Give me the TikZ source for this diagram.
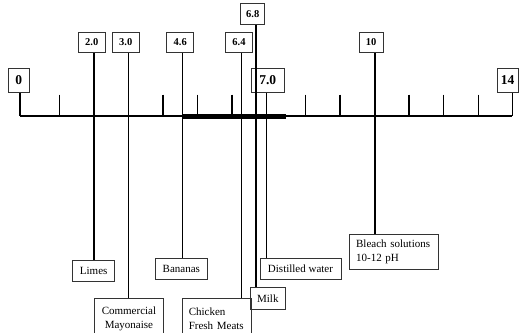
\documentclass[tikz,border=0pt]{standalone}
\usepackage{fontspec}
\setmainfont{Liberation Serif}
\begin{document}
\begin{tikzpicture}[x=1pt,y=-1pt,
  boxline/.style={draw=black!80, line width=0.9pt},
  lab/.style={boxline, inner sep=0pt, minimum width=27pt, minimum height=20.4pt, font=\bfseries\fontsize{10.5}{12}\selectfont},
  big/.style={boxline, inner sep=0pt, minimum height=24.4pt, font=\bfseries\fontsize{13.5}{15}\selectfont},
  food/.style={boxline, inner sep=0pt, minimum height=21pt, font=\fontsize{11}{13.5}\selectfont},
  food2/.style={boxline, inner ysep=0pt, font=\fontsize{11}{13.5}\selectfont},
  conn/.style={line width=1.2pt},
  tickmark/.style={line width=1.2pt}]
\useasboundingbox (0,0) rectangle (522,332);

% axis coordinates
\coordinate (a0) at (20,116);
\coordinate (a14) at (512.3,116);
\coordinate (a20) at (94,116);
\coordinate (a30) at (128.3,116);
\coordinate (a46) at (182.7,116);
\coordinate (a64) at (241.7,116);
\coordinate (a68) at (256,116);
\coordinate (a70) at (266.7,116);
\coordinate (a100) at (375,116);
\coordinate (thickend) at (286,116);

% top labels
\node[big, minimum width=20.7pt] (t0) at (18.7,80.5) {0};
\node[big, minimum width=21.3pt] (t14) at (507.7,80.5) {14};
\node[big, minimum width=33.3pt] (t70) at (267.8,80.5) {7.0};
\node[lab] (t20) at (91.7,42.5) {2.0};
\node[lab] (t30) at (125.8,42.5) {3.0};
\node[lab] (t46) at (180.3,42.5) {4.6};
\node[lab] (t64) at (239,42.5) {6.4};
\node[lab, minimum width=24pt] (t68) at (252.7,14) {6.8};
\node[lab, minimum width=24.3pt] (t100) at (371.2,42.5) {10};

% bottom labels
\node[food, minimum width=42pt] (b20) at (93.7,270.5) {Limes};
\node[food, minimum width=52pt] (b46) at (181.3,268.8) {Bananas};
\node[food, minimum width=81pt] (b70) at (300.5,268.8) {Distilled water};
\node[food, minimum width=34.3pt, minimum height=22pt] (b68) at (267.8,298.3) {Milk};
\node[food2, anchor=north west, inner xsep=7pt, text width=75.6pt, minimum height=34.7pt, align=left] (b100) at (348.7,234.3) {Bleach solutions\\10-12 pH};
\node[food2, anchor=north west, inner xsep=3pt, text width=63.6pt, minimum height=40pt, align=center] (b30) at (93.7,298.3) {Commercial\\Mayonaise};
\node[food2, anchor=north west, inner xsep=6pt, text width=56.4pt, minimum height=40pt, align=left] (b64) at (182.3,298.3) {Chicken\\Fresh Meats};

% axis
\draw[line width=2pt] (a0) -- (a14);
\draw[line width=5pt] (a46) -- (thickend);
\foreach \x in {59.3,163,197.3,232,305.7,340,409,443.7,478.3}
  \draw[tickmark] (\x,94.7) -- (\x,116);
\draw[tickmark] (t0.south -| a0) -- (a0);
\draw[tickmark] (t14.south -| a14) -- (a14);

% connectors
\draw[conn] (t20.south -| a20) -- (b20.north -| a20);
\draw[conn] (t30.south -| a30) -- (b30.north -| a30);
\draw[conn] (t46.south -| a46) -- (b46.north -| a46);
\draw[conn] (t64.south -| a64) -- (b64.north -| a64);
\draw[conn] (t68.south -| a68) -- (b68.north -| a68);
\draw[conn] (t70.south -| a70) -- (b70.north -| a70);
\draw[conn] (t100.south -| a100) -- (b100.north -| a100);
\end{tikzpicture}
\end{document}
